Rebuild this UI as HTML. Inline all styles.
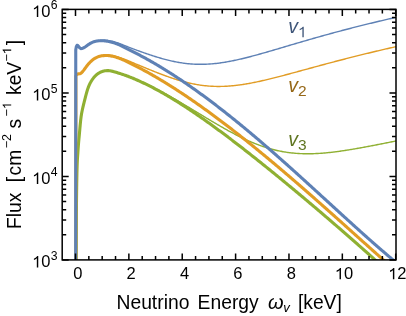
<!DOCTYPE html>
<html><head><meta charset="utf-8"><style>
html,body{margin:0;padding:0;background:#fff;}
svg{display:block;font-family:"Liberation Sans",sans-serif;will-change:transform;}
</style></head><body>
<svg width="406" height="316" viewBox="0 0 406 316">
<rect width="406" height="316" fill="#fff"/>
<defs><clipPath id="c"><rect x="62.2" y="9.4" width="333.8" height="250.49999999999997"/></clipPath></defs>
<g clip-path="url(#c)" fill="none" stroke-linejoin="round" stroke-linecap="butt">
<path d="M130.00,76.90 L131.00,77.29 L132.00,77.69 L133.00,78.10 L134.00,78.51 L135.00,78.93 L136.00,79.36 L137.00,79.79 L138.00,80.22 L139.00,80.65 L140.00,81.09 L141.00,81.53 L142.00,81.98 L143.00,82.44 L144.00,82.90 L145.00,83.36 L146.00,83.83 L147.00,84.31 L148.00,84.79 L149.00,85.27 L150.00,85.76 L151.00,86.25 L152.00,86.75 L153.00,87.25 L154.00,87.76 L155.00,88.27 L156.00,88.78 L157.00,89.30 L158.00,89.82 L159.00,90.35 L160.00,90.88 L161.00,91.41 L162.00,91.95 L163.00,92.49 L164.00,93.03 L165.00,93.58 L166.00,94.13 L167.00,94.68 L168.00,95.24 L169.00,95.80 L170.00,96.36 L171.00,96.93 L172.00,97.49 L173.00,98.06 L174.00,98.64 L175.00,99.21 L176.00,99.79 L177.00,100.37 L178.00,100.95 L179.00,101.54 L180.00,102.12 L181.00,102.71 L182.00,103.30 L183.00,103.89 L184.00,104.49 L185.00,105.08 L186.00,105.68 L187.00,106.27 L188.00,106.87 L189.00,107.47 L190.00,108.07 L191.00,108.67 L192.00,109.28 L193.00,109.88 L194.00,110.48 L195.00,111.09 L196.00,111.69 L197.00,112.30 L198.00,112.90 L199.00,113.51 L200.00,114.11 L201.00,114.72 L202.00,115.32 L203.00,115.92 L204.00,116.53 L205.00,117.13 L206.00,117.73 L207.00,118.33 L208.00,118.93 L209.00,119.53 L210.00,120.13 L211.00,120.73 L212.00,121.32 L213.00,121.91 L214.00,122.50 L215.00,123.09 L216.00,123.68 L217.00,124.27 L218.00,124.85 L219.00,125.43 L220.00,126.01 L221.00,126.58 L222.00,127.16 L223.00,127.72 L224.00,128.29 L225.00,128.85 L226.00,129.41 L227.00,129.97 L228.00,130.52 L229.00,131.07 L230.00,131.62 L231.00,132.16 L232.00,132.69 L233.00,133.22 L234.00,133.75 L235.00,134.27 L236.00,134.79 L237.00,135.31 L238.00,135.81 L239.00,136.32 L240.00,136.81 L241.00,137.31 L242.00,137.79 L243.00,138.27 L244.00,138.75 L245.00,139.22 L246.00,139.68 L247.00,140.14 L248.00,140.59 L249.00,141.03 L250.00,141.47 L251.00,141.90 L252.00,142.33 L253.00,142.74 L254.00,143.15 L255.00,143.56 L256.00,143.95 L257.00,144.34 L258.00,144.72 L259.00,145.09 L260.00,145.46 L261.00,145.82 L262.00,146.17 L263.00,146.51 L264.00,146.85 L265.00,147.18 L266.00,147.50 L267.00,147.81 L268.00,148.11 L269.00,148.41 L270.00,148.69 L271.00,148.97 L272.00,149.24 L273.00,149.51 L274.00,149.76 L275.00,150.01 L276.00,150.25 L277.00,150.48 L278.00,150.70 L279.00,150.91 L280.00,151.12 L281.00,151.31 L282.00,151.50 L283.00,151.69 L284.00,151.86 L285.00,152.02 L286.00,152.18 L287.00,152.33 L288.00,152.47 L289.00,152.61 L290.00,152.73 L291.00,152.85 L292.00,152.96 L293.00,153.06 L294.00,153.16 L295.00,153.25 L296.00,153.33 L297.00,153.40 L298.00,153.47 L299.00,153.53 L300.00,153.58 L301.00,153.63 L302.00,153.67 L303.00,153.70 L304.00,153.72 L305.00,153.74 L306.00,153.76 L307.00,153.76 L308.00,153.76 L309.00,153.76 L310.00,153.75 L311.00,153.73 L312.00,153.71 L313.00,153.68 L314.00,153.64 L315.00,153.60 L316.00,153.56 L317.00,153.51 L318.00,153.46 L319.00,153.40 L320.00,153.33 L321.00,153.26 L322.00,153.19 L323.00,153.11 L324.00,153.03 L325.00,152.94 L326.00,152.85 L327.00,152.76 L328.00,152.66 L329.00,152.55 L330.00,152.45 L331.00,152.34 L332.00,152.22 L333.00,152.11 L334.00,151.98 L335.00,151.86 L336.00,151.73 L337.00,151.60 L338.00,151.47 L339.00,151.33 L340.00,151.20 L341.00,151.05 L342.00,150.91 L343.00,150.76 L344.00,150.61 L345.00,150.46 L346.00,150.31 L347.00,150.15 L348.00,149.99 L349.00,149.83 L350.00,149.67 L351.00,149.51 L352.00,149.34 L353.00,149.17 L354.00,149.00 L355.00,148.83 L356.00,148.66 L357.00,148.48 L358.00,148.31 L359.00,148.13 L360.00,147.95 L361.00,147.77 L362.00,147.59 L363.00,147.41 L364.00,147.22 L365.00,147.04 L366.00,146.85 L367.00,146.67 L368.00,146.48 L369.00,146.29 L370.00,146.10 L371.00,145.91 L372.00,145.72 L373.00,145.53 L374.00,145.33 L375.00,145.14 L376.00,144.94 L377.00,144.75 L378.00,144.55 L379.00,144.36 L380.00,144.16 L381.00,143.97 L382.00,143.77 L383.00,143.57 L384.00,143.37 L385.00,143.17 L386.00,142.98 L387.00,142.78 L388.00,142.58 L389.00,142.38 L390.00,142.18 L391.00,141.98 L392.00,141.78 L393.00,141.58 L394.00,141.38 L395.00,141.18 L396.00,140.98" stroke="#8FB032" stroke-width="1.4"/>
<path d="M100.00,55.94 L101.00,55.70 L102.00,55.49 L103.00,55.33 L104.00,55.21 L105.00,55.12 L106.00,55.08 L107.00,55.07 L108.00,55.10 L109.00,55.17 L110.00,55.26 L111.00,55.39 L112.00,55.55 L113.00,55.73 L114.00,55.93 L115.00,56.16 L116.00,56.41 L117.00,56.69 L118.00,56.98 L119.00,57.30 L120.00,57.63 L121.00,57.98 L122.00,58.34 L123.00,58.71 L124.00,59.08 L125.00,59.47 L126.00,59.86 L127.00,60.26 L128.00,60.66 L129.00,61.07 L130.00,61.48 L131.00,61.90 L132.00,62.33 L133.00,62.75 L134.00,63.18 L135.00,63.60 L136.00,64.03 L137.00,64.45 L138.00,64.86 L139.00,65.27 L140.00,65.69 L141.00,66.10 L142.00,66.51 L143.00,66.92 L144.00,67.34 L145.00,67.75 L146.00,68.16 L147.00,68.57 L148.00,68.98 L149.00,69.38 L150.00,69.79 L151.00,70.20 L152.00,70.60 L153.00,71.00 L154.00,71.40 L155.00,71.80 L156.00,72.19 L157.00,72.59 L158.00,72.98 L159.00,73.37 L160.00,73.75 L161.00,74.13 L162.00,74.51 L163.00,74.89 L164.00,75.26 L165.00,75.63 L166.00,76.00 L167.00,76.36 L168.00,76.71 L169.00,77.07 L170.00,77.41 L171.00,77.76 L172.00,78.10 L173.00,78.43 L174.00,78.76 L175.00,79.08 L176.00,79.40 L177.00,79.71 L178.00,80.02 L179.00,80.32 L180.00,80.61 L181.00,80.90 L182.00,81.18 L183.00,81.46 L184.00,81.73 L185.00,81.99 L186.00,82.25 L187.00,82.50 L188.00,82.74 L189.00,82.97 L190.00,83.20 L191.00,83.42 L192.00,83.64 L193.00,83.84 L194.00,84.04 L195.00,84.23 L196.00,84.41 L197.00,84.59 L198.00,84.76 L199.00,84.92 L200.00,85.07 L201.00,85.21 L202.00,85.35 L203.00,85.48 L204.00,85.60 L205.00,85.71 L206.00,85.81 L207.00,85.91 L208.00,86.00 L209.00,86.08 L210.00,86.15 L211.00,86.21 L212.00,86.27 L213.00,86.32 L214.00,86.36 L215.00,86.39 L216.00,86.41 L217.00,86.43 L218.00,86.44 L219.00,86.44 L220.00,86.43 L221.00,86.42 L222.00,86.40 L223.00,86.37 L224.00,86.34 L225.00,86.30 L226.00,86.25 L227.00,86.19 L228.00,86.13 L229.00,86.06 L230.00,85.98 L231.00,85.90 L232.00,85.81 L233.00,85.71 L234.00,85.61 L235.00,85.51 L236.00,85.39 L237.00,85.27 L238.00,85.15 L239.00,85.02 L240.00,84.88 L241.00,84.74 L242.00,84.59 L243.00,84.44 L244.00,84.29 L245.00,84.13 L246.00,83.96 L247.00,83.79 L248.00,83.62 L249.00,83.44 L250.00,83.25 L251.00,83.07 L252.00,82.88 L253.00,82.68 L254.00,82.48 L255.00,82.28 L256.00,82.07 L257.00,81.86 L258.00,81.65 L259.00,81.44 L260.00,81.22 L261.00,81.00 L262.00,80.77 L263.00,80.55 L264.00,80.32 L265.00,80.08 L266.00,79.85 L267.00,79.61 L268.00,79.37 L269.00,79.13 L270.00,78.89 L271.00,78.64 L272.00,78.40 L273.00,78.15 L274.00,77.90 L275.00,77.64 L276.00,77.39 L277.00,77.13 L278.00,76.88 L279.00,76.62 L280.00,76.36 L281.00,76.10 L282.00,75.84 L283.00,75.57 L284.00,75.31 L285.00,75.05 L286.00,74.78 L287.00,74.51 L288.00,74.25 L289.00,73.98 L290.00,73.71 L291.00,73.44 L292.00,73.17 L293.00,72.90 L294.00,72.63 L295.00,72.36 L296.00,72.09 L297.00,71.82 L298.00,71.54 L299.00,71.27 L300.00,71.00 L301.00,70.73 L302.00,70.45 L303.00,70.18 L304.00,69.91 L305.00,69.63 L306.00,69.36 L307.00,69.09 L308.00,68.81 L309.00,68.54 L310.00,68.27 L311.00,68.00 L312.00,67.72 L313.00,67.45 L314.00,67.18 L315.00,66.91 L316.00,66.64 L317.00,66.37 L318.00,66.09 L319.00,65.82 L320.00,65.55 L321.00,65.28 L322.00,65.01 L323.00,64.74 L324.00,64.48 L325.00,64.21 L326.00,63.94 L327.00,63.67 L328.00,63.40 L329.00,63.14 L330.00,62.87 L331.00,62.61 L332.00,62.34 L333.00,62.08 L334.00,61.81 L335.00,61.55 L336.00,61.29 L337.00,61.02 L338.00,60.76 L339.00,60.50 L340.00,60.24 L341.00,59.98 L342.00,59.72 L343.00,59.46 L344.00,59.20 L345.00,58.95 L346.00,58.69 L347.00,58.43 L348.00,58.18 L349.00,57.92 L350.00,57.67 L351.00,57.41 L352.00,57.16 L353.00,56.91 L354.00,56.66 L355.00,56.40 L356.00,56.15 L357.00,55.90 L358.00,55.65 L359.00,55.41 L360.00,55.16 L361.00,54.91 L362.00,54.66 L363.00,54.42 L364.00,54.17 L365.00,53.93 L366.00,53.68 L367.00,53.44 L368.00,53.20 L369.00,52.96 L370.00,52.71 L371.00,52.47 L372.00,52.23 L373.00,51.99 L374.00,51.76 L375.00,51.52 L376.00,51.28 L377.00,51.04 L378.00,50.81 L379.00,50.57 L380.00,50.34 L381.00,50.10 L382.00,49.87 L383.00,49.64 L384.00,49.41 L385.00,49.17 L386.00,48.94 L387.00,48.71 L388.00,48.48 L389.00,48.25 L390.00,48.03 L391.00,47.80 L392.00,47.57 L393.00,47.35 L394.00,47.12 L395.00,46.90 L396.00,46.67" stroke="#E19C24" stroke-width="1.4"/>
<path d="M100.00,40.32 L101.00,40.26 L102.00,40.22 L103.00,40.22 L104.00,40.24 L105.00,40.28 L106.00,40.36 L107.00,40.45 L108.00,40.57 L109.00,40.72 L110.00,40.89 L111.00,41.08 L112.00,41.29 L113.00,41.53 L114.00,41.78 L115.00,42.06 L116.00,42.36 L117.00,42.67 L118.00,43.01 L119.00,43.36 L120.00,43.73 L121.00,44.10 L122.00,44.49 L123.00,44.88 L124.00,45.28 L125.00,45.68 L126.00,46.08 L127.00,46.48 L128.00,46.88 L129.00,47.28 L130.00,47.67 L131.00,48.05 L132.00,48.44 L133.00,48.82 L134.00,49.19 L135.00,49.56 L136.00,49.93 L137.00,50.30 L138.00,50.66 L139.00,51.02 L140.00,51.38 L141.00,51.74 L142.00,52.09 L143.00,52.45 L144.00,52.80 L145.00,53.15 L146.00,53.49 L147.00,53.84 L148.00,54.18 L149.00,54.52 L150.00,54.85 L151.00,55.18 L152.00,55.51 L153.00,55.83 L154.00,56.15 L155.00,56.47 L156.00,56.78 L157.00,57.09 L158.00,57.39 L159.00,57.69 L160.00,57.99 L161.00,58.28 L162.00,58.56 L163.00,58.84 L164.00,59.11 L165.00,59.38 L166.00,59.64 L167.00,59.90 L168.00,60.15 L169.00,60.39 L170.00,60.63 L171.00,60.86 L172.00,61.08 L173.00,61.30 L174.00,61.51 L175.00,61.71 L176.00,61.91 L177.00,62.10 L178.00,62.28 L179.00,62.46 L180.00,62.62 L181.00,62.78 L182.00,62.93 L183.00,63.08 L184.00,63.22 L185.00,63.35 L186.00,63.47 L187.00,63.58 L188.00,63.69 L189.00,63.78 L190.00,63.87 L191.00,63.95 L192.00,64.03 L193.00,64.09 L194.00,64.15 L195.00,64.20 L196.00,64.24 L197.00,64.27 L198.00,64.30 L199.00,64.31 L200.00,64.32 L201.00,64.32 L202.00,64.32 L203.00,64.30 L204.00,64.28 L205.00,64.25 L206.00,64.22 L207.00,64.17 L208.00,64.12 L209.00,64.06 L210.00,63.99 L211.00,63.92 L212.00,63.84 L213.00,63.75 L214.00,63.66 L215.00,63.55 L216.00,63.45 L217.00,63.33 L218.00,63.21 L219.00,63.08 L220.00,62.95 L221.00,62.81 L222.00,62.67 L223.00,62.51 L224.00,62.36 L225.00,62.20 L226.00,62.03 L227.00,61.85 L228.00,61.68 L229.00,61.49 L230.00,61.31 L231.00,61.11 L232.00,60.92 L233.00,60.71 L234.00,60.51 L235.00,60.30 L236.00,60.08 L237.00,59.86 L238.00,59.64 L239.00,59.41 L240.00,59.18 L241.00,58.95 L242.00,58.71 L243.00,58.47 L244.00,58.23 L245.00,57.99 L246.00,57.74 L247.00,57.48 L248.00,57.23 L249.00,56.97 L250.00,56.71 L251.00,56.45 L252.00,56.19 L253.00,55.92 L254.00,55.65 L255.00,55.38 L256.00,55.11 L257.00,54.83 L258.00,54.56 L259.00,54.28 L260.00,54.00 L261.00,53.72 L262.00,53.44 L263.00,53.16 L264.00,52.87 L265.00,52.59 L266.00,52.30 L267.00,52.01 L268.00,51.72 L269.00,51.43 L270.00,51.14 L271.00,50.85 L272.00,50.56 L273.00,50.27 L274.00,49.97 L275.00,49.68 L276.00,49.39 L277.00,49.09 L278.00,48.80 L279.00,48.50 L280.00,48.21 L281.00,47.91 L282.00,47.62 L283.00,47.32 L284.00,47.02 L285.00,46.73 L286.00,46.43 L287.00,46.14 L288.00,45.84 L289.00,45.54 L290.00,45.25 L291.00,44.95 L292.00,44.66 L293.00,44.36 L294.00,44.07 L295.00,43.77 L296.00,43.48 L297.00,43.19 L298.00,42.89 L299.00,42.60 L300.00,42.31 L301.00,42.01 L302.00,41.72 L303.00,41.43 L304.00,41.14 L305.00,40.85 L306.00,40.56 L307.00,40.27 L308.00,39.98 L309.00,39.69 L310.00,39.40 L311.00,39.12 L312.00,38.83 L313.00,38.54 L314.00,38.26 L315.00,37.97 L316.00,37.69 L317.00,37.41 L318.00,37.12 L319.00,36.84 L320.00,36.56 L321.00,36.28 L322.00,36.00 L323.00,35.72 L324.00,35.44 L325.00,35.16 L326.00,34.88 L327.00,34.61 L328.00,34.33 L329.00,34.06 L330.00,33.78 L331.00,33.51 L332.00,33.24 L333.00,32.96 L334.00,32.69 L335.00,32.42 L336.00,32.15 L337.00,31.88 L338.00,31.62 L339.00,31.35 L340.00,31.08 L341.00,30.82 L342.00,30.55 L343.00,30.29 L344.00,30.02 L345.00,29.76 L346.00,29.50 L347.00,29.24 L348.00,28.98 L349.00,28.72 L350.00,28.46 L351.00,28.20 L352.00,27.94 L353.00,27.68 L354.00,27.43 L355.00,27.17 L356.00,26.92 L357.00,26.67 L358.00,26.41 L359.00,26.16 L360.00,25.91 L361.00,25.66 L362.00,25.41 L363.00,25.16 L364.00,24.91 L365.00,24.66 L366.00,24.42 L367.00,24.17 L368.00,23.93 L369.00,23.68 L370.00,23.44 L371.00,23.20 L372.00,22.95 L373.00,22.71 L374.00,22.47 L375.00,22.23 L376.00,21.99 L377.00,21.75 L378.00,21.51 L379.00,21.28 L380.00,21.04 L381.00,20.81 L382.00,20.57 L383.00,20.34 L384.00,20.10 L385.00,19.87 L386.00,19.64 L387.00,19.41 L388.00,19.17 L389.00,18.94 L390.00,18.72 L391.00,18.49 L392.00,18.26 L393.00,18.03 L394.00,17.80 L395.00,17.58 L396.00,17.35" stroke="#5E81B5" stroke-width="1.4"/>
<path d="M76.00,300.00 L76.30,230.00 L76.50,200.00 L76.60,191.93 L76.70,185.00 L76.80,179.11 L76.90,174.14 L77.00,170.00 L77.10,166.58 L77.20,163.76 L77.30,161.45 L77.40,159.52 L77.50,157.88 L77.60,156.41 L77.70,155.00 L77.80,153.57 L77.90,152.11 L78.00,150.64 L78.10,149.17 L78.20,147.73 L78.30,146.34 L78.40,145.00 L78.50,143.74 L78.60,142.54 L78.70,141.39 L78.80,140.29 L78.90,139.22 L79.00,138.17 L79.10,137.12 L79.20,136.07 L79.30,135.00 L79.40,133.91 L79.50,132.79 L79.60,131.66 L79.70,130.51 L79.80,129.37 L79.90,128.23 L80.00,127.11 L80.10,126.00 L80.20,124.92 L80.30,123.86 L80.40,122.84 L80.50,121.85 L80.60,120.91 L80.70,120.00 L80.80,119.14 L80.90,118.32 L81.00,117.54 L81.10,116.80 L81.20,116.09 L81.30,115.42 L81.40,114.78 L81.50,114.17 L81.60,113.58 L81.70,113.02 L81.80,112.48 L81.90,111.95 L82.00,111.45 L82.10,110.95 L82.20,110.47 L82.30,110.00 L82.40,109.53 L82.50,109.08 L82.60,108.62 L82.70,108.18 L82.80,107.74 L82.90,107.30 L83.00,106.87 L83.10,106.44 L83.20,106.02 L83.30,105.60 L83.40,105.19 L83.50,104.78 L83.60,104.37 L83.70,103.96 L83.80,103.56 L83.90,103.16 L84.00,102.76 L84.10,102.36 L84.20,101.97 L84.30,101.57 L84.40,101.18 L84.50,100.79 L84.60,100.39 L84.70,100.00 L84.80,99.61 L84.90,99.21 L85.00,98.82 L85.10,98.42 L85.20,98.03 L85.30,97.64 L85.40,97.25 L85.50,96.86 L85.60,96.47 L85.70,96.08 L85.80,95.70 L85.90,95.31 L86.00,94.93 L86.10,94.56 L86.20,94.18 L86.30,93.81 L86.40,93.44 L86.50,93.08 L86.60,92.72 L86.70,92.36 L86.80,92.01 L86.90,91.66 L87.00,91.32 L87.10,90.98 L87.20,90.65 L87.30,90.32 L87.40,90.00 L87.50,89.69 L87.60,89.38 L87.70,89.07 L87.80,88.78 L87.90,88.49 L88.00,88.20 L88.10,87.92 L88.20,87.64 L88.30,87.37 L88.40,87.11 L88.50,86.85 L88.60,86.59 L88.70,86.34 L88.80,86.10 L88.90,85.86 L89.00,85.62 L89.10,85.39 L89.20,85.16 L89.30,84.94 L89.40,84.71 L89.50,84.50 L89.60,84.29 L89.70,84.08 L89.80,83.87 L89.90,83.67 L90.00,83.47 L90.10,83.27 L90.20,83.08 L90.30,82.89 L90.40,82.70 L90.50,82.52 L90.60,82.33 L90.70,82.15 L90.80,81.98 L90.90,81.80 L91.00,81.63 L91.10,81.46 L91.20,81.29 L91.30,81.12 L91.40,80.95 L91.50,80.79 L91.60,80.63 L91.70,80.47 L91.80,80.31 L91.90,80.16 L92.00,80.00 L92.10,79.85 L92.20,79.70 L92.30,79.55 L92.40,79.41 L92.50,79.26 L92.60,79.12 L92.70,78.98 L92.80,78.84 L92.90,78.71 L93.00,78.57 L93.10,78.44 L93.20,78.30 L93.30,78.17 L93.40,78.05 L93.50,77.92 L93.60,77.79 L93.70,77.67 L93.80,77.55 L93.90,77.43 L94.00,77.31 L94.10,77.19 L94.20,77.07 L94.30,76.96 L94.40,76.85 L94.50,76.73 L94.60,76.62 L94.70,76.52 L94.80,76.41 L94.90,76.30 L95.00,76.20 L95.10,76.10 L95.20,75.99 L95.30,75.89 L95.40,75.79 L95.50,75.70 L95.60,75.60 L95.70,75.50 L95.80,75.41 L95.90,75.32 L96.00,75.23 L96.10,75.14 L96.20,75.05 L96.30,74.96 L96.40,74.87 L96.50,74.79 L96.60,74.70 L96.70,74.62 L96.80,74.54 L96.90,74.46 L97.00,74.38 L97.10,74.30 L97.20,74.22 L97.30,74.14 L97.40,74.07 L97.50,73.99 L97.60,73.92 L97.70,73.85 L97.80,73.78 L97.90,73.70 L98.00,73.64 L98.10,73.57 L98.20,73.50 L98.30,73.43 L98.40,73.37 L98.50,73.30 L98.60,73.24 L98.70,73.18 L98.80,73.12 L98.90,73.06 L99.00,73.00 L99.10,72.94 L99.20,72.88 L99.30,72.82 L99.40,72.77 L99.50,72.71 L99.60,72.66 L99.70,72.60 L99.80,72.55 L99.90,72.50 L100.00,72.45 L101.00,71.97 L102.00,71.58 L103.00,71.25 L104.00,70.99 L105.00,70.80 L106.00,70.68 L107.00,70.62 L108.00,70.62 L109.00,70.67 L110.00,70.78 L111.00,70.94 L112.00,71.14 L113.00,71.38 L114.00,71.65 L115.00,71.94 L116.00,72.26 L117.00,72.58 L118.00,72.90 L119.00,73.22 L120.00,73.55 L121.00,73.88 L122.00,74.20 L123.00,74.54 L124.00,74.87 L125.00,75.22 L126.00,75.57 L127.00,75.93 L128.00,76.30 L129.00,76.68 L130.00,77.07 L131.00,77.47 L132.00,77.88 L133.00,78.30 L134.00,78.72 L135.00,79.15 L136.00,79.59 L137.00,80.03 L138.00,80.47 L139.00,80.92 L140.00,81.37 L141.00,81.82 L142.00,82.29 L143.00,82.75 L144.00,83.23 L145.00,83.71 L146.00,84.19 L147.00,84.68 L148.00,85.17 L149.00,85.67 L150.00,86.18 L151.00,86.69 L152.00,87.21 L153.00,87.73 L154.00,88.25 L155.00,88.78 L156.00,89.32 L157.00,89.86 L158.00,90.40 L159.00,90.95 L160.00,91.50 L161.00,92.06 L162.00,92.62 L163.00,93.19 L164.00,93.76 L165.00,94.34 L166.00,94.91 L167.00,95.50 L168.00,96.09 L169.00,96.68 L170.00,97.27 L171.00,97.87 L172.00,98.48 L173.00,99.08 L174.00,99.69 L175.00,100.31 L176.00,100.93 L177.00,101.55 L178.00,102.18 L179.00,102.80 L180.00,103.44 L181.00,104.07 L182.00,104.71 L183.00,105.36 L184.00,106.00 L185.00,106.65 L186.00,107.30 L187.00,107.96 L188.00,108.62 L189.00,109.28 L190.00,109.95 L191.00,110.61 L192.00,111.29 L193.00,111.96 L194.00,112.64 L195.00,113.32 L196.00,114.00 L197.00,114.68 L198.00,115.37 L199.00,116.06 L200.00,116.76 L201.00,117.45 L202.00,118.15 L203.00,118.85 L204.00,119.55 L205.00,120.26 L206.00,120.97 L207.00,121.68 L208.00,122.39 L209.00,123.11 L210.00,123.83 L211.00,124.55 L212.00,125.27 L213.00,125.99 L214.00,126.72 L215.00,127.45 L216.00,128.18 L217.00,128.91 L218.00,129.65 L219.00,130.38 L220.00,131.12 L221.00,131.86 L222.00,132.61 L223.00,133.35 L224.00,134.10 L225.00,134.85 L226.00,135.60 L227.00,136.35 L228.00,137.10 L229.00,137.86 L230.00,138.61 L231.00,139.37 L232.00,140.13 L233.00,140.90 L234.00,141.66 L235.00,142.43 L236.00,143.19 L237.00,143.96 L238.00,144.73 L239.00,145.50 L240.00,146.28 L241.00,147.05 L242.00,147.83 L243.00,148.60 L244.00,149.38 L245.00,150.16 L246.00,150.95 L247.00,151.73 L248.00,152.51 L249.00,153.30 L250.00,154.09 L251.00,154.87 L252.00,155.66 L253.00,156.45 L254.00,157.25 L255.00,158.04 L256.00,158.83 L257.00,159.63 L258.00,160.43 L259.00,161.22 L260.00,162.02 L261.00,162.82 L262.00,163.63 L263.00,164.43 L264.00,165.23 L265.00,166.04 L266.00,166.84 L267.00,167.65 L268.00,168.46 L269.00,169.26 L270.00,170.07 L271.00,170.89 L272.00,171.70 L273.00,172.51 L274.00,173.32 L275.00,174.14 L276.00,174.95 L277.00,175.77 L278.00,176.59 L279.00,177.41 L280.00,178.23 L281.00,179.05 L282.00,179.87 L283.00,180.69 L284.00,181.51 L285.00,182.34 L286.00,183.16 L287.00,183.99 L288.00,184.82 L289.00,185.64 L290.00,186.47 L291.00,187.30 L292.00,188.13 L293.00,188.96 L294.00,189.79 L295.00,190.62 L296.00,191.46 L297.00,192.29 L298.00,193.13 L299.00,193.96 L300.00,194.80 L301.00,195.64 L302.00,196.47 L303.00,197.31 L304.00,198.15 L305.00,198.99 L306.00,199.83 L307.00,200.68 L308.00,201.52 L309.00,202.36 L310.00,203.21 L311.00,204.05 L312.00,204.90 L313.00,205.75 L314.00,206.59 L315.00,207.44 L316.00,208.29 L317.00,209.14 L318.00,209.99 L319.00,210.84 L320.00,211.69 L321.00,212.55 L322.00,213.40 L323.00,214.25 L324.00,215.11 L325.00,215.97 L326.00,216.82 L327.00,217.68 L328.00,218.54 L329.00,219.40 L330.00,220.26 L331.00,221.12 L332.00,221.98 L333.00,222.84 L334.00,223.70 L335.00,224.57 L336.00,225.43 L337.00,226.30 L338.00,227.16 L339.00,228.03 L340.00,228.90 L341.00,229.77 L342.00,230.63 L343.00,231.50 L344.00,232.38 L345.00,233.25 L346.00,234.12 L347.00,234.99 L348.00,235.87 L349.00,236.74 L350.00,237.62 L351.00,238.49 L352.00,239.37 L353.00,240.25 L354.00,241.13 L355.00,242.01 L356.00,242.89 L357.00,243.77 L358.00,244.65 L359.00,245.54 L360.00,246.42 L361.00,247.31 L362.00,248.19 L363.00,249.08 L364.00,249.97 L365.00,250.86 L366.00,251.75 L367.00,252.64 L368.00,253.53 L369.00,254.42 L370.00,255.31 L371.00,256.21 L372.00,257.10 L373.00,258.00 L374.00,258.89 L375.00,259.79 L376.00,260.69 L377.00,261.59 L378.00,262.49 L379.00,263.39 L380.00,264.29 L381.00,265.20 L382.00,266.10 L383.00,267.01 L384.00,267.91 L385.00,268.82" stroke="#8FB032" stroke-width="3.1"/>
<path d="M75.90,300.00 L75.90,76.00 L77.20,74.00 L78.40,73.90 L79.80,73.80 L80.80,73.32 L81.80,72.49 L82.80,71.39 L83.80,70.12 L84.80,68.75 L85.80,67.36 L86.80,66.04 L87.80,64.79 L88.80,63.61 L89.80,62.51 L90.80,61.51 L91.80,60.59 L92.80,59.76 L93.80,59.02 L94.80,58.36 L95.80,57.79 L96.80,57.31 L97.80,56.90 L98.80,56.55 L99.80,56.27 L100.80,56.03 L101.80,55.84 L102.80,55.69 L103.80,55.59 L104.80,55.52 L105.80,55.49 L106.80,55.51 L107.80,55.56 L108.80,55.65 L109.80,55.77 L110.80,55.93 L111.80,56.11 L112.80,56.33 L113.80,56.56 L114.80,56.83 L115.80,57.12 L116.80,57.43 L117.80,57.77 L118.80,58.13 L119.80,58.51 L120.80,58.91 L121.80,59.32 L122.80,59.74 L123.80,60.18 L124.80,60.63 L125.80,61.08 L126.80,61.55 L127.80,62.02 L128.80,62.50 L129.80,62.99 L130.80,63.49 L131.80,64.00 L132.80,64.51 L133.80,65.03 L134.80,65.55 L135.80,66.07 L136.80,66.59 L137.80,67.11 L138.80,67.62 L139.80,68.15 L140.80,68.67 L141.80,69.20 L142.80,69.74 L143.80,70.27 L144.80,70.82 L145.80,71.36 L146.80,71.91 L147.80,72.46 L148.80,73.02 L149.80,73.58 L150.80,74.14 L151.80,74.71 L152.80,75.28 L153.80,75.86 L154.80,76.43 L155.80,77.01 L156.80,77.60 L157.80,78.19 L158.80,78.78 L159.80,79.37 L160.80,79.97 L161.80,80.57 L162.80,81.18 L163.80,81.78 L164.80,82.39 L165.80,83.01 L166.80,83.63 L167.80,84.25 L168.80,84.87 L169.80,85.49 L170.80,86.12 L171.80,86.76 L172.80,87.39 L173.80,88.03 L174.80,88.67 L175.80,89.31 L176.80,89.96 L177.80,90.61 L178.80,91.26 L179.80,91.92 L180.80,92.58 L181.80,93.24 L182.80,93.90 L183.80,94.57 L184.80,95.24 L185.80,95.91 L186.80,96.58 L187.80,97.26 L188.80,97.94 L189.80,98.62 L190.80,99.30 L191.80,99.99 L192.80,100.68 L193.80,101.37 L194.80,102.07 L195.80,102.77 L196.80,103.46 L197.80,104.17 L198.80,104.87 L199.80,105.58 L200.80,106.29 L201.80,107.00 L202.80,107.71 L203.80,108.43 L204.80,109.15 L205.80,109.87 L206.80,110.59 L207.80,111.31 L208.80,112.04 L209.80,112.77 L210.80,113.50 L211.80,114.24 L212.80,114.97 L213.80,115.71 L214.80,116.45 L215.80,117.19 L216.80,117.94 L217.80,118.68 L218.80,119.43 L219.80,120.18 L220.80,120.93 L221.80,121.69 L222.80,122.44 L223.80,123.20 L224.80,123.96 L225.80,124.72 L226.80,125.49 L227.80,126.25 L228.80,127.02 L229.80,127.79 L230.80,128.56 L231.80,129.34 L232.80,130.11 L233.80,130.89 L234.80,131.67 L235.80,132.45 L236.80,133.23 L237.80,134.01 L238.80,134.80 L239.80,135.59 L240.80,136.38 L241.80,137.17 L242.80,137.96 L243.80,138.76 L244.80,139.55 L245.80,140.35 L246.80,141.15 L247.80,141.95 L248.80,142.75 L249.80,143.56 L250.80,144.36 L251.80,145.17 L252.80,145.98 L253.80,146.79 L254.80,147.60 L255.80,148.41 L256.80,149.23 L257.80,150.05 L258.80,150.86 L259.80,151.68 L260.80,152.50 L261.80,153.33 L262.80,154.15 L263.80,154.98 L264.80,155.80 L265.80,156.63 L266.80,157.46 L267.80,158.29 L268.80,159.12 L269.80,159.96 L270.80,160.79 L271.80,161.63 L272.80,162.47 L273.80,163.30 L274.80,164.14 L275.80,164.99 L276.80,165.83 L277.80,166.67 L278.80,167.52 L279.80,168.36 L280.80,169.21 L281.80,170.06 L282.80,170.91 L283.80,171.76 L284.80,172.61 L285.80,173.47 L286.80,174.32 L287.80,175.18 L288.80,176.03 L289.80,176.89 L290.80,177.75 L291.80,178.61 L292.80,179.47 L293.80,180.33 L294.80,181.20 L295.80,182.06 L296.80,182.93 L297.80,183.79 L298.80,184.66 L299.80,185.53 L300.80,186.40 L301.80,187.27 L302.80,188.14 L303.80,189.01 L304.80,189.88 L305.80,190.76 L306.80,191.63 L307.80,192.51 L308.80,193.38 L309.80,194.26 L310.80,195.14 L311.80,196.02 L312.80,196.90 L313.80,197.78 L314.80,198.66 L315.80,199.54 L316.80,200.42 L317.80,201.30 L318.80,202.19 L319.80,203.07 L320.80,203.96 L321.80,204.84 L322.80,205.73 L323.80,206.62 L324.80,207.51 L325.80,208.40 L326.80,209.28 L327.80,210.17 L328.80,211.06 L329.80,211.95 L330.80,212.85 L331.80,213.74 L332.80,214.63 L333.80,215.52 L334.80,216.42 L335.80,217.31 L336.80,218.20 L337.80,219.10 L338.80,219.99 L339.80,220.89 L340.80,221.78 L341.80,222.68 L342.80,223.57 L343.80,224.47 L344.80,225.37 L345.80,226.26 L346.80,227.16 L347.80,228.06 L348.80,228.95 L349.80,229.85 L350.80,230.75 L351.80,231.65 L352.80,232.55 L353.80,233.44 L354.80,234.34 L355.80,235.24 L356.80,236.14 L357.80,237.04 L358.80,237.93 L359.80,238.83 L360.80,239.73 L361.80,240.63 L362.80,241.53 L363.80,242.42 L364.80,243.32 L365.80,244.22 L366.80,245.12 L367.80,246.01 L368.80,246.91 L369.80,247.81 L370.80,248.70 L371.80,249.60 L372.80,250.49 L373.80,251.39 L374.80,252.28 L375.80,253.18 L376.80,254.07 L377.80,254.96 L378.80,255.86 L379.80,256.75 L380.80,257.64 L381.80,258.53 L382.80,259.42 L383.80,260.31 L384.80,261.20 L385.80,262.09 L386.80,262.97 L387.80,263.86 L388.80,264.75 L389.80,265.63" stroke="#E19C24" stroke-width="3.1"/>
<path d="M75.70,300.00 L75.75,50.00 L76.30,46.80 L77.00,45.40 L77.60,45.30 L78.40,46.20 L79.50,47.70 L80.80,48.60 L81.80,48.49 L82.80,48.19 L83.80,47.75 L84.80,47.18 L85.80,46.53 L86.80,45.83 L87.80,45.10 L88.80,44.37 L89.80,43.69 L90.80,43.09 L91.80,42.57 L92.80,42.14 L93.80,41.78 L94.80,41.49 L95.80,41.26 L96.80,41.06 L97.80,40.91 L98.80,40.80 L99.80,40.73 L100.80,40.69 L101.80,40.69 L102.80,40.71 L103.80,40.77 L104.80,40.85 L105.80,40.95 L106.80,41.09 L107.80,41.25 L108.80,41.44 L109.80,41.65 L110.80,41.89 L111.80,42.16 L112.80,42.45 L113.80,42.76 L114.80,43.09 L115.80,43.45 L116.80,43.84 L117.80,44.24 L118.80,44.67 L119.80,45.11 L120.80,45.57 L121.80,46.04 L122.80,46.52 L123.80,47.02 L124.80,47.52 L125.80,48.02 L126.80,48.53 L127.80,49.04 L128.80,49.55 L129.80,50.06 L130.80,50.58 L131.80,51.09 L132.80,51.60 L133.80,52.12 L134.80,52.63 L135.80,53.14 L136.80,53.66 L137.80,54.18 L138.80,54.70 L139.80,55.23 L140.80,55.76 L141.80,56.29 L142.80,56.83 L143.80,57.38 L144.80,57.92 L145.80,58.47 L146.80,59.02 L147.80,59.58 L148.80,60.14 L149.80,60.71 L150.80,61.28 L151.80,61.85 L152.80,62.42 L153.80,63.00 L154.80,63.58 L155.80,64.17 L156.80,64.76 L157.80,65.35 L158.80,65.95 L159.80,66.55 L160.80,67.15 L161.80,67.76 L162.80,68.37 L163.80,68.98 L164.80,69.60 L165.80,70.22 L166.80,70.84 L167.80,71.47 L168.80,72.10 L169.80,72.73 L170.80,73.37 L171.80,74.01 L172.80,74.65 L173.80,75.30 L174.80,75.95 L175.80,76.60 L176.80,77.26 L177.80,77.92 L178.80,78.58 L179.80,79.25 L180.80,79.91 L181.80,80.59 L182.80,81.26 L183.80,81.94 L184.80,82.62 L185.80,83.30 L186.80,83.99 L187.80,84.68 L188.80,85.37 L189.80,86.06 L190.80,86.76 L191.80,87.46 L192.80,88.17 L193.80,88.87 L194.80,89.58 L195.80,90.29 L196.80,91.01 L197.80,91.73 L198.80,92.45 L199.80,93.17 L200.80,93.90 L201.80,94.62 L202.80,95.36 L203.80,96.09 L204.80,96.83 L205.80,97.56 L206.80,98.31 L207.80,99.05 L208.80,99.80 L209.80,100.55 L210.80,101.30 L211.80,102.05 L212.80,102.81 L213.80,103.57 L214.80,104.33 L215.80,105.10 L216.80,105.86 L217.80,106.63 L218.80,107.40 L219.80,108.18 L220.80,108.95 L221.80,109.73 L222.80,110.51 L223.80,111.30 L224.80,112.08 L225.80,112.87 L226.80,113.66 L227.80,114.45 L228.80,115.25 L229.80,116.05 L230.80,116.85 L231.80,117.65 L232.80,118.45 L233.80,119.26 L234.80,120.06 L235.80,120.87 L236.80,121.69 L237.80,122.50 L238.80,123.32 L239.80,124.13 L240.80,124.95 L241.80,125.78 L242.80,126.60 L243.80,127.43 L244.80,128.25 L245.80,129.08 L246.80,129.92 L247.80,130.75 L248.80,131.59 L249.80,132.42 L250.80,133.26 L251.80,134.10 L252.80,134.95 L253.80,135.79 L254.80,136.64 L255.80,137.49 L256.80,138.34 L257.80,139.19 L258.80,140.04 L259.80,140.90 L260.80,141.75 L261.80,142.61 L262.80,143.47 L263.80,144.33 L264.80,145.19 L265.80,146.06 L266.80,146.92 L267.80,147.79 L268.80,148.66 L269.80,149.53 L270.80,150.40 L271.80,151.28 L272.80,152.15 L273.80,153.03 L274.80,153.91 L275.80,154.78 L276.80,155.66 L277.80,156.55 L278.80,157.43 L279.80,158.31 L280.80,159.20 L281.80,160.08 L282.80,160.97 L283.80,161.86 L284.80,162.75 L285.80,163.64 L286.80,164.53 L287.80,165.43 L288.80,166.32 L289.80,167.22 L290.80,168.11 L291.80,169.01 L292.80,169.91 L293.80,170.81 L294.80,171.71 L295.80,172.61 L296.80,173.51 L297.80,174.41 L298.80,175.32 L299.80,176.22 L300.80,177.13 L301.80,178.03 L302.80,178.94 L303.80,179.85 L304.80,180.75 L305.80,181.66 L306.80,182.57 L307.80,183.48 L308.80,184.39 L309.80,185.30 L310.80,186.22 L311.80,187.13 L312.80,188.04 L313.80,188.95 L314.80,189.87 L315.80,190.78 L316.80,191.69 L317.80,192.61 L318.80,193.52 L319.80,194.44 L320.80,195.35 L321.80,196.27 L322.80,197.18 L323.80,198.10 L324.80,199.01 L325.80,199.93 L326.80,200.84 L327.80,201.76 L328.80,202.68 L329.80,203.59 L330.80,204.51 L331.80,205.42 L332.80,206.34 L333.80,207.25 L334.80,208.17 L335.80,209.08 L336.80,210.00 L337.80,210.91 L338.80,211.83 L339.80,212.74 L340.80,213.65 L341.80,214.57 L342.80,215.48 L343.80,216.39 L344.80,217.30 L345.80,218.21 L346.80,219.12 L347.80,220.03 L348.80,220.94 L349.80,221.85 L350.80,222.76 L351.80,223.67 L352.80,224.57 L353.80,225.48 L354.80,226.38 L355.80,227.28 L356.80,228.19 L357.80,229.09 L358.80,229.99 L359.80,230.89 L360.80,231.79 L361.80,232.68 L362.80,233.58 L363.80,234.47 L364.80,235.37 L365.80,236.26 L366.80,237.15 L367.80,238.04 L368.80,238.93 L369.80,239.82 L370.80,240.70 L371.80,241.58 L372.80,242.47 L373.80,243.35 L374.80,244.22 L375.80,245.10 L376.80,245.98 L377.80,246.85 L378.80,247.72 L379.80,248.59 L380.80,249.46 L381.80,250.32 L382.80,251.19 L383.80,252.05 L384.80,252.91 L385.80,253.77 L386.80,254.62 L387.80,255.47 L388.80,256.32 L389.80,257.17 L390.80,258.02 L391.80,258.86 L392.80,259.70 L393.80,260.54 L394.80,261.38 L395.80,262.21 L396.80,263.04 L397.80,263.87 L398.80,264.69 L399.80,265.51" stroke="#5E81B5" stroke-width="3.1"/>
</g>
<rect x="62.2" y="9.4" width="333.8" height="250.49999999999997" fill="none" stroke="#000" stroke-width="1.5"/>
<path d="M75.50,259.90 L75.50,253.40 M75.50,9.40 L75.50,15.90 M88.84,259.90 L88.84,255.90 M88.84,9.40 L88.84,13.40 M102.18,259.90 L102.18,255.90 M102.18,9.40 L102.18,13.40 M115.53,259.90 L115.53,255.90 M115.53,9.40 L115.53,13.40 M128.87,259.90 L128.87,253.40 M128.87,9.40 L128.87,15.90 M142.21,259.90 L142.21,255.90 M142.21,9.40 L142.21,13.40 M155.55,259.90 L155.55,255.90 M155.55,9.40 L155.55,13.40 M168.89,259.90 L168.89,255.90 M168.89,9.40 L168.89,13.40 M182.23,259.90 L182.23,253.40 M182.23,9.40 L182.23,15.90 M195.57,259.90 L195.57,255.90 M195.57,9.40 L195.57,13.40 M208.92,259.90 L208.92,255.90 M208.92,9.40 L208.92,13.40 M222.26,259.90 L222.26,255.90 M222.26,9.40 L222.26,13.40 M235.60,259.90 L235.60,253.40 M235.60,9.40 L235.60,15.90 M248.94,259.90 L248.94,255.90 M248.94,9.40 L248.94,13.40 M262.28,259.90 L262.28,255.90 M262.28,9.40 L262.28,13.40 M275.62,259.90 L275.62,255.90 M275.62,9.40 L275.62,13.40 M288.97,259.90 L288.97,253.40 M288.97,9.40 L288.97,15.90 M302.31,259.90 L302.31,255.90 M302.31,9.40 L302.31,13.40 M315.65,259.90 L315.65,255.90 M315.65,9.40 L315.65,13.40 M328.99,259.90 L328.99,255.90 M328.99,9.40 L328.99,13.40 M342.33,259.90 L342.33,253.40 M342.33,9.40 L342.33,15.90 M355.68,259.90 L355.68,255.90 M355.68,9.40 L355.68,13.40 M369.02,259.90 L369.02,255.90 M369.02,9.40 L369.02,13.40 M382.36,259.90 L382.36,255.90 M382.36,9.40 L382.36,13.40 M395.70,259.90 L395.70,253.40 M395.70,9.40 L395.70,15.90 M62.20,259.90 L68.70,259.90 M396.00,259.90 L389.50,259.90 M62.20,234.76 L66.20,234.76 M396.00,234.76 L392.00,234.76 M62.20,220.06 L66.20,220.06 M396.00,220.06 L392.00,220.06 M62.20,209.63 L66.20,209.63 M396.00,209.63 L392.00,209.63 M62.20,201.54 L66.20,201.54 M396.00,201.54 L392.00,201.54 M62.20,194.92 L66.20,194.92 M396.00,194.92 L392.00,194.92 M62.20,189.33 L66.20,189.33 M396.00,189.33 L392.00,189.33 M62.20,184.49 L66.20,184.49 M396.00,184.49 L392.00,184.49 M62.20,180.22 L66.20,180.22 M396.00,180.22 L392.00,180.22 M62.20,176.40 L68.70,176.40 M396.00,176.40 L389.50,176.40 M62.20,151.26 L66.20,151.26 M396.00,151.26 L392.00,151.26 M62.20,136.56 L66.20,136.56 M396.00,136.56 L392.00,136.56 M62.20,126.13 L66.20,126.13 M396.00,126.13 L392.00,126.13 M62.20,118.04 L66.20,118.04 M396.00,118.04 L392.00,118.04 M62.20,111.42 L66.20,111.42 M396.00,111.42 L392.00,111.42 M62.20,105.83 L66.20,105.83 M396.00,105.83 L392.00,105.83 M62.20,100.99 L66.20,100.99 M396.00,100.99 L392.00,100.99 M62.20,96.72 L66.20,96.72 M396.00,96.72 L392.00,96.72 M62.20,92.90 L68.70,92.90 M396.00,92.90 L389.50,92.90 M62.20,67.76 L66.20,67.76 M396.00,67.76 L392.00,67.76 M62.20,53.06 L66.20,53.06 M396.00,53.06 L392.00,53.06 M62.20,42.63 L66.20,42.63 M396.00,42.63 L392.00,42.63 M62.20,34.54 L66.20,34.54 M396.00,34.54 L392.00,34.54 M62.20,27.92 L66.20,27.92 M396.00,27.92 L392.00,27.92 M62.20,22.33 L66.20,22.33 M396.00,22.33 L392.00,22.33 M62.20,17.49 L66.20,17.49 M396.00,17.49 L392.00,17.49 M62.20,13.22 L66.20,13.22 M396.00,13.22 L392.00,13.22 M62.20,9.40 L68.70,9.40 M396.00,9.40 L389.50,9.40" stroke="#000" stroke-width="1.5" fill="none"/>
<g font-size="16.5" fill="#000"><text x="77.80" y="279.3" text-anchor="middle">0</text><text x="131.17" y="279.3" text-anchor="middle">2</text><text x="184.53" y="279.3" text-anchor="middle">4</text><text x="237.90" y="279.3" text-anchor="middle">6</text><text x="291.27" y="279.3" text-anchor="middle">8</text><path d="M770,0H592V1135Q470,1020 232,915V1085Q520,1210 655,1409H770Z" fill="#000" transform="translate(334.76,279.30) scale(0.00806,-0.00806)"/><text x="343.93" y="279.3">0</text><path d="M770,0H592V1135Q470,1020 232,915V1085Q520,1210 655,1409H770Z" fill="#000" transform="translate(388.12,279.30) scale(0.00806,-0.00806)"/><text x="397.30" y="279.3">2</text><path d="M770,0H592V1135Q470,1020 232,915V1085Q520,1210 655,1409H770Z" fill="#000" transform="translate(32.05,267.40) scale(0.00806,-0.00806)"/><text x="50.4" y="267.40" text-anchor="end">0</text><text x="50.7" y="259.60" font-size="12.2">3</text><path d="M770,0H592V1135Q470,1020 232,915V1085Q520,1210 655,1409H770Z" fill="#000" transform="translate(32.05,183.90) scale(0.00806,-0.00806)"/><text x="50.4" y="183.90" text-anchor="end">0</text><text x="50.7" y="176.10" font-size="12.2">4</text><path d="M770,0H592V1135Q470,1020 232,915V1085Q520,1210 655,1409H770Z" fill="#000" transform="translate(32.05,100.40) scale(0.00806,-0.00806)"/><text x="50.4" y="100.40" text-anchor="end">0</text><text x="50.7" y="92.60" font-size="12.2">5</text><path d="M770,0H592V1135Q470,1020 232,915V1085Q520,1210 655,1409H770Z" fill="#000" transform="translate(32.05,16.90) scale(0.00806,-0.00806)"/><text x="50.4" y="16.90" text-anchor="end">0</text><text x="50.7" y="9.10" font-size="12.2">6</text></g>
<g font-size="19.3" fill="#000"><text x="116.5" y="308.8">Neutrino</text><text x="197.6" y="308.8">Energy</text><text x="268.0" y="308.8" font-style="italic" font-size="20">ω</text><text x="283.2" y="312.3" font-style="italic" font-size="13">v</text><text x="297.9" y="308.8">[keV]</text></g>
<g transform="translate(20.5,229.1) rotate(-90)" font-size="19.3" fill="#000"><text x="0" y="0">Flux</text><text x="46.9" y="0">[</text><text x="53.7" y="0">cm</text><text x="80.9" y="-9.3" font-size="12.5">−2</text><text x="100.6" y="0">s</text><text x="112.6" y="-9.3" font-size="12.5">−</text><path d="M770,0H592V1135Q470,1020 232,915V1085Q520,1210 655,1409H770Z" fill="#000" transform="translate(119.90,-9.30) scale(0.00610,-0.00610)"/><text x="134.1" y="0">keV</text><text x="167.5" y="-9.3" font-size="12.5">−</text><path d="M770,0H592V1135Q470,1020 232,915V1085Q520,1210 655,1409H770Z" fill="#000" transform="translate(174.80,-9.30) scale(0.00610,-0.00610)"/><text x="183.9" y="0">]</text></g>
<g font-size="19.5" font-style="italic">
<text x="288.3" y="33.2" fill="#3F5679">v</text><path d="M770,0H592V1135Q470,1020 232,915V1085Q520,1210 655,1409H770Z" fill="#3F5679" transform="translate(297.90,37.30) scale(0.00757,-0.00757)"/>
<text x="288.3" y="91.7" fill="#966818">v<tspan font-style="normal" font-size="15.5" dy="4.0">2</tspan></text>
<text x="288.3" y="145.7" fill="#5F7521">v<tspan font-style="normal" font-size="15.5" dy="4.0">3</tspan></text>
</g>
</svg>
</body></html>
